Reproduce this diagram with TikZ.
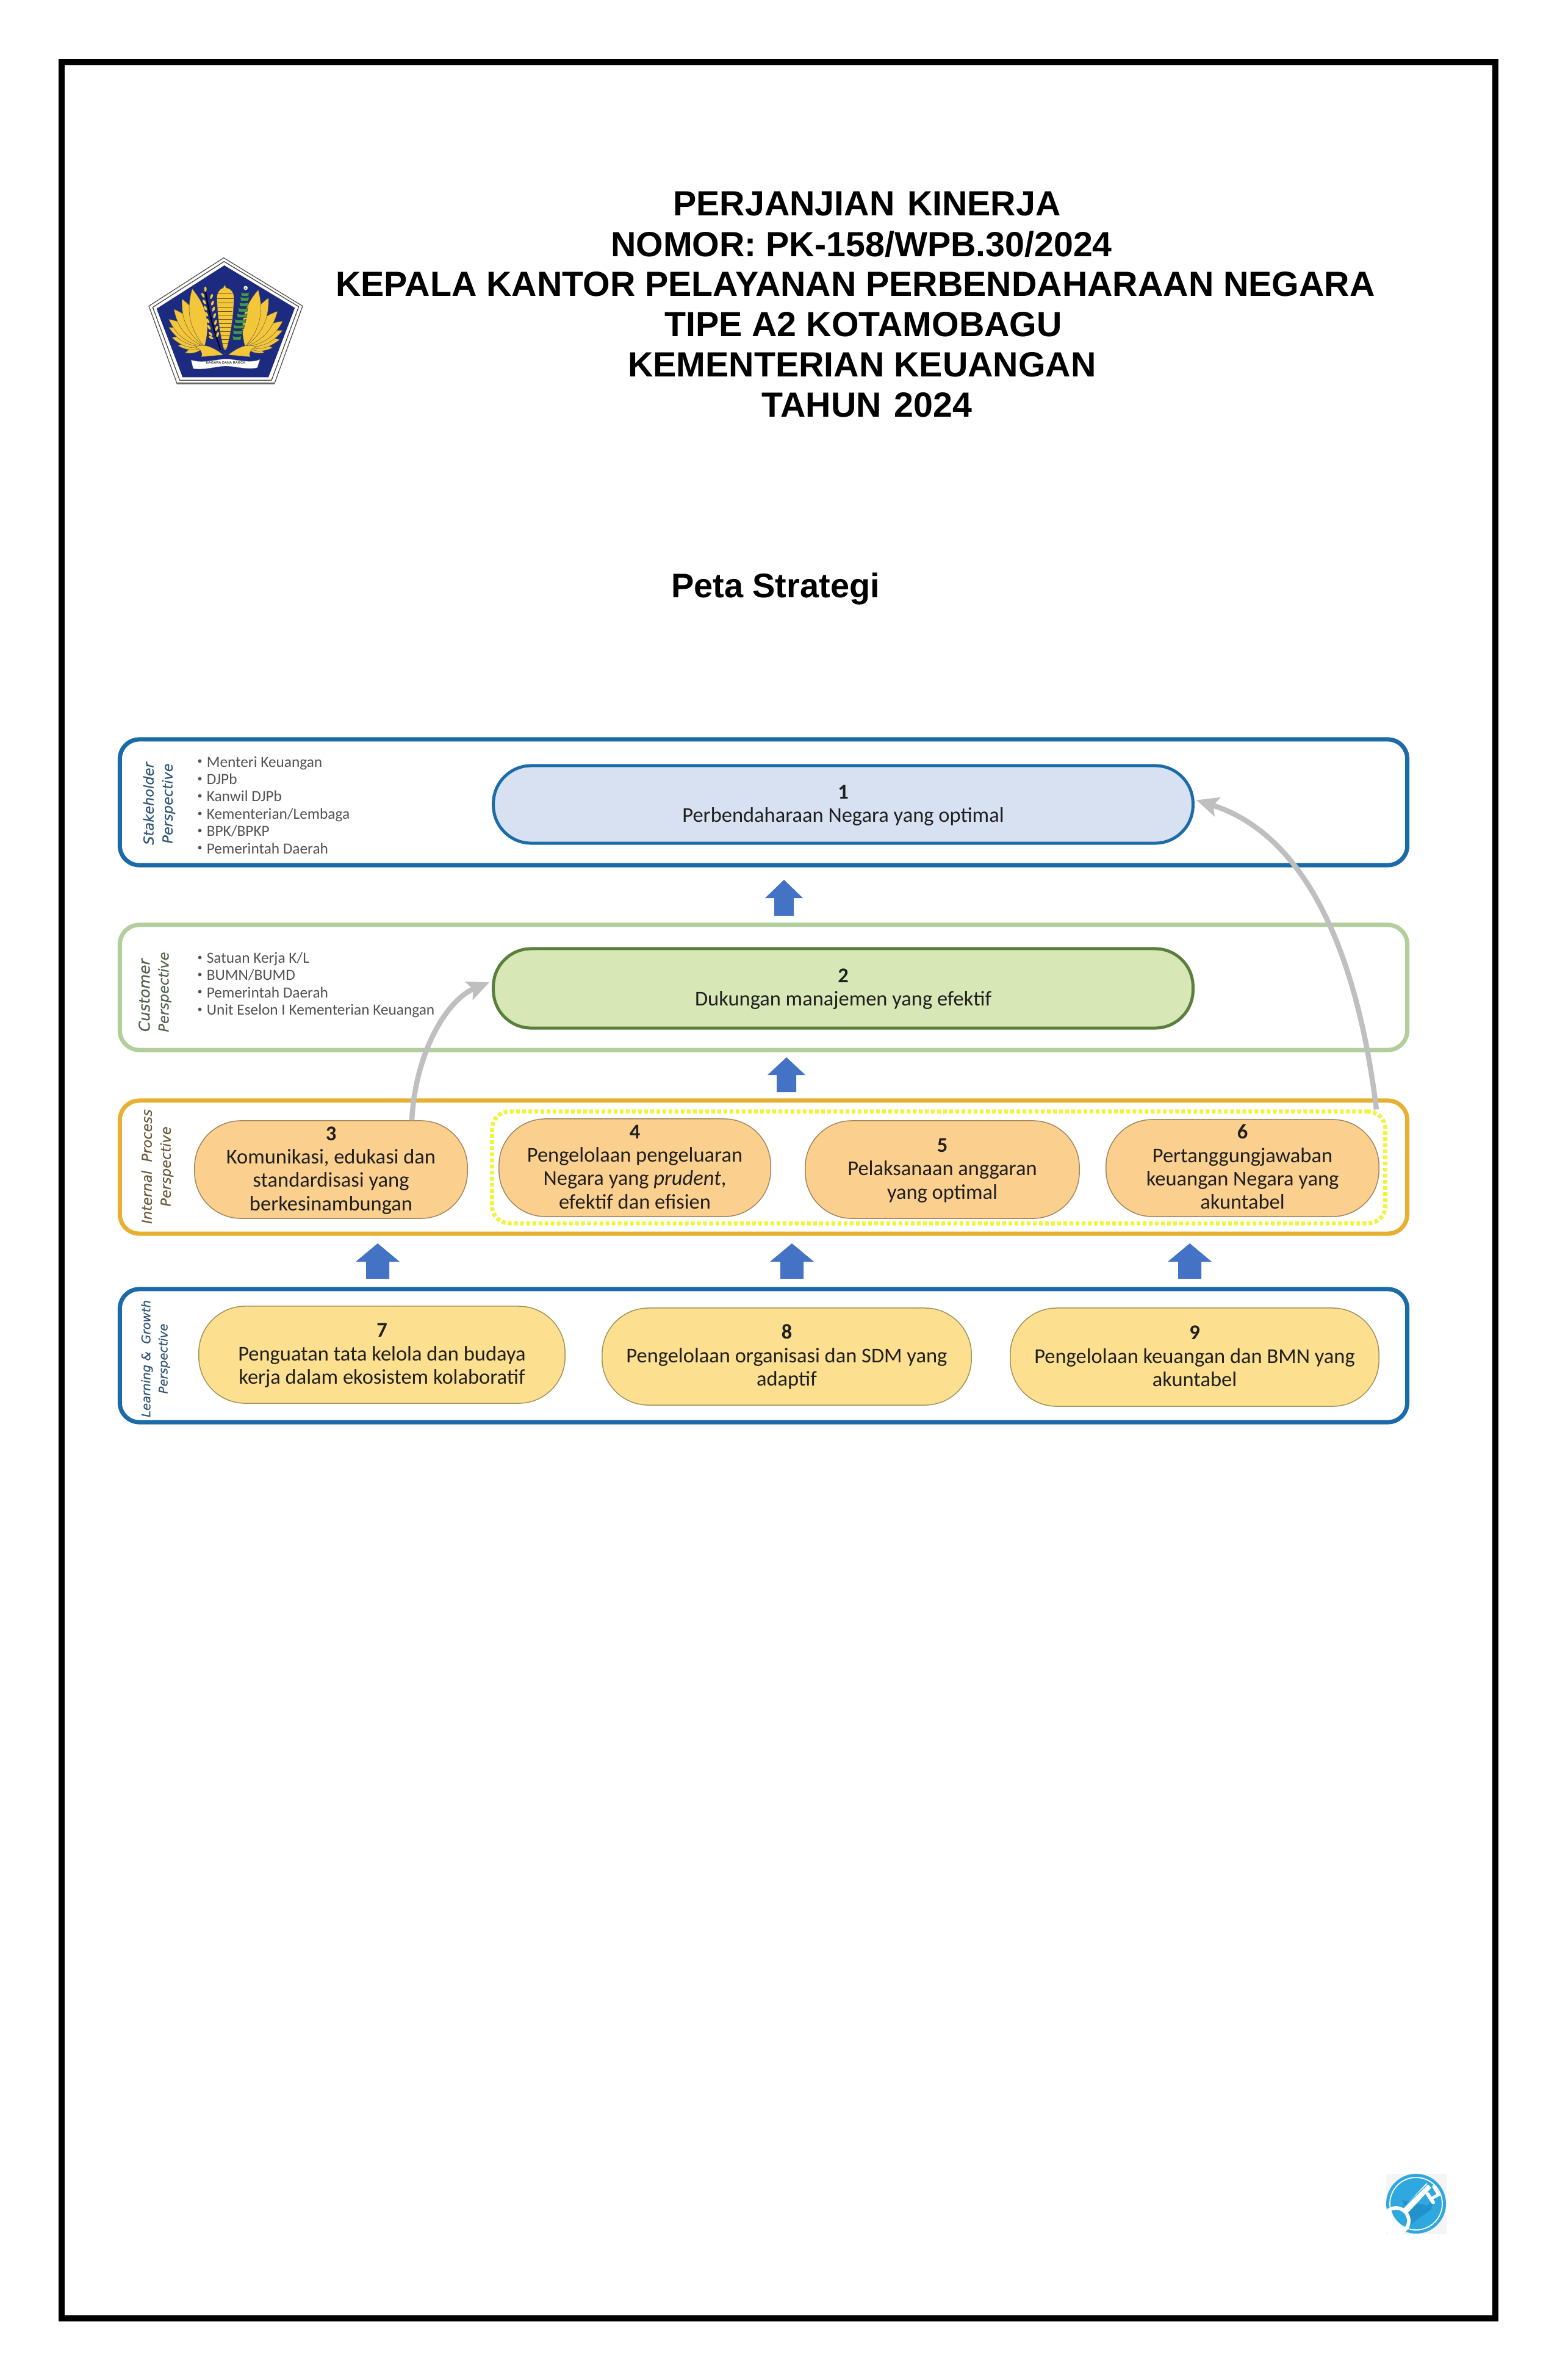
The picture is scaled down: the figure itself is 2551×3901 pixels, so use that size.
\documentclass[tikz,border=0pt]{standalone}
\usepackage{fontspec}
\usetikzlibrary{arrows.meta}
\setmainfont{Liberation Sans}
\newfontfamily\bodyfont{Carlito}
\newfontfamily\perspfont[ItalicFeatures={FakeBold=0.35}]{DejaVu Sans}
\definecolor{frameblue}{HTML}{1B6BA8}
\definecolor{framegreen}{HTML}{B2CE9C}
\definecolor{frameorange}{HTML}{E8B032}
\definecolor{pillblue}{HTML}{D7E1F2}
\definecolor{pillgreen}{HTML}{D7E7B6}
\definecolor{pillorange}{HTML}{FBD08F}
\definecolor{pillyellow}{HTML}{FCE08F}
\definecolor{pilloutline}{HTML}{5A7F3C}
\definecolor{arrowblue}{HTML}{4472C4}
\definecolor{arrowgray}{HTML}{BFBFBF}
\definecolor{dotyellow}{HTML}{EEF53C}
\definecolor{logonavy}{HTML}{1C2A80}
\definecolor{logogold}{HTML}{F4C63A}
\definecolor{logogreen}{HTML}{3F9A4E}
\definecolor{keyblue}{HTML}{2FA8E0}
\definecolor{keydark}{HTML}{2391CC}
\definecolor{labelblue}{HTML}{2F5578}
\definecolor{labelgreen}{HTML}{4F6349}
\definecolor{labelbrown}{HTML}{6B5A3A}
\tikzset{
  x=0.01cm,y=-0.01cm,
  titlebox/.style={font=\bfseries\fontsize{16.3}{16.5}\selectfont,inner sep=0pt,text=black},
  subtitlebox/.style={titlebox,font=\bfseries\fontsize{15.9}{16}\selectfont},
  framebox/.style={draw=#1,line width=0.07cm,rounded corners=0.32cm,inner sep=0pt,fill=white},
  pill/.style={inner sep=0pt,align=center,text=black!88,
     font=\bodyfont\fontsize{9.8}{10.9}\selectfont},
  pillone/.style={pill,line width=0.05cm,rounded corners=0.62cm},
  pillthree/.style={pill,draw=black!35!#1,fill=#1,line width=0.015cm,rounded corners=0.76cm},
  listbox/.style={inner sep=0pt,align=left,anchor=north west,text=black!68,
     font=\bodyfont\fontsize{7.2}{8.07}\selectfont},
  persp/.style={rotate=90,inner sep=0pt,align=center,text=#1,
     font=\perspfont\itshape\fontsize{6.4}{8.8}\selectfont},
  grayarrow/.style={draw=arrowgray,line width=0.085cm,
     -{Stealth[length=0.36cm,width=0.32cm,inset=0.07cm]}},
  feather/.style={fill=logogold,draw=black!70,line width=0.12pt},
}
\newcommand{\pillnode}[7]{% name,l,t,r,b,style,text
  \pgfmathsetmacro{\cxx}{(#2+#4)/2}\pgfmathsetmacro{\cyy}{(#3+#5)/2}
  \pgfmathsetmacro{\wdd}{(#4-#2)/100}\pgfmathsetmacro{\htt}{(#5-#3)/100}
  \node[#6,minimum width=\wdd cm,minimum height=\htt cm] (#1) at (\cxx,\cyy) {#7};
}
\newcommand{\ptxt}[1]{\raisebox{-0.02cm}[\height][\depth]{\begin{tabular}{@{}c@{}}#1\end{tabular}}}
\newcommand{\blockarrow}[6]{% x,tip,base,bottom,head half,shaft half
  \fill[arrowblue] (#1,#2) -- (#1+#5,#3) -- (#1+#6,#3) -- (#1+#6,#4) -- (#1-#6,#4) -- (#1-#6,#3) -- (#1-#5,#3) -- cycle;
}
\newcommand{\lb}{\raisebox{0.35ex}{\fontsize{4.6}{5}\selectfont •}\hspace{0.28em}}
\begin{document}
\begin{tikzpicture}
\useasboundingbox (0,0) rectangle (2551,3901);
\fill[white] (0,0) rectangle (2551,3901);
% page border
\draw[black,line width=0.105cm] (101,102) rectangle (2451,3800);

% titles
\node[titlebox] (t1) at (1421,334) {PERJANJIAN\hspace{0.36em}KINERJA};
\node[titlebox] (t2) at (1412,400) {NOMOR: PK-158/WPB.30/2024};
\node[titlebox] (t3) at (1402,466) {KEPALA KANTOR PELAYANAN PERBENDAHARAAN NEGARA};
\node[titlebox] (t4) at (1415,532) {TIPE A2 KOTAMOBAGU};
\node[titlebox] (t5) at (1413,598) {KEMENTERIAN KEUANGAN};
\node[titlebox] (t6) at (1421,664) {TAHUN\hspace{0.36em}2024};
\node[subtitlebox] (t7) at (1271,965) {Peta Strategi};

% logo
\begin{scope}[shift={(220,400)},xscale=0.3333,yscale=0.3333]
  \fill[white,draw=black!70,line width=0.35pt] (440,68)--(828,305)--(690,685)--(210,685)--(72,305)--cycle;
  \draw[black!75,line width=0.35pt] (442,86)--(809,308)--(675,670)--(224,670)--(91,311)--cycle;
  \fill[logonavy] (443,105)--(790,314)--(660,655)--(238,655)--(110,318)--cycle;
  \draw[black!60,line width=0.7pt] (210,685)--(690,685);
  % left wing
  \foreach \tx/\ty in {250/535,215/500,185/460,170/410,170/370,195/320,235/270,285/220}
    \draw[feather] (345,505) to[bend left=28] (\tx,\ty) to[bend left=28] (345,505);
  % right wing
  \foreach \tx/\ty in {640/535,680/510,715/470,730/425,730/380,705/330,660/265,610/225}
    \draw[feather] (545,505) to[bend right=28] (\tx,\ty) to[bend right=28] (545,505);
  \draw[feather] (300,505) .. controls (340,490) and (380,500) .. (438,545) -- (330,555) .. controls (340,530) and (320,515) .. (300,505) -- cycle;
  \draw[feather] (600,505) .. controls (560,490) and (520,500) .. (462,545) -- (570,555) .. controls (560,530) and (580,515) .. (600,505) -- cycle;
  % rice
  \draw[black,line width=0.5pt] (350,225) .. controls (365,330) and (390,420) .. (425,520);
  \foreach \gx/\gy/\gr in {350/222/90,338/252/-60,380/258/70,345/285/-60,385/290/70,350/315/-60,390/320/70,355/345/-60,395/352/70,362/378/-60,400/385/70,368/410/-60,405/415/70,375/442/-50,410/445/70,378/460/-30}
    \fill[logogold,rotate around={\gr:(\gx,\gy)}] (\gx,\gy) ellipse (13 and 6);
  % torch
  \fill[logogold,draw=black!70,line width=0.12pt] (445,200) -- (452,215) .. controls (480,222) and (490,240) .. (490,260) .. controls (490,360) and (470,470) .. (447,540) .. controls (425,470) and (408,360) .. (407,260) .. controls (407,240) and (418,222) .. (438,215) -- cycle;
  \foreach \sy/\sw in {240/38,268/40,290/38,310/37,330/36,350/34,370/33,390/31,410/28,430/26,450/23,470/20,490/15,510/10}
    \draw[black!60!logogold,line width=0.1pt] (448-\sw,\sy) -- (448+\sw,\sy);
  \fill[logonavy] (428,505) -- (447,540) -- (466,505) -- (447,522) -- cycle;
  % cotton
  \fill[white] (548,216) circle (10);
  \fill[logogreen] (548,218) circle (5);
  \foreach \cx/\cy/\cw in {545/245/20,543/268/22,540/295/23,535/322/24,530/350/26,522/378/28,515/405/28,510/432/25,505/460/22}
    \fill[logogreen,draw=black!80,line width=0.12pt] (\cx-\cw,\cy-8) .. controls (\cx-\cw/2,\cy-2) and (\cx+\cw/2,\cy-2) .. (\cx+\cw,\cy-8) -- (\cx+\cw-4,\cy+11) -- (\cx-\cw+4,\cy+11) -- cycle;
  % ribbon
  \fill[white,draw=black!40,line width=0.1pt] (280,570) .. controls (330,590) and (420,565) .. (450,565) .. controls (490,565) and (570,590) .. (618,568) -- (605,608) .. controls (560,620) and (490,600) .. (450,600) .. controls (410,600) and (340,622) .. (290,612) -- cycle;
  \node[inner sep=0pt,text=black!75,font=\bfseries\fontsize{1.6}{2}\selectfont] (motto) at (450,585) {NAGARA DANA RAKCA};
\end{scope}

% perspective frames
\pillnode{f1}{197}{1212}{2306}{1418}{framebox=frameblue}{}
\pillnode{f2}{197}{1516}{2306}{1721}{framebox=framegreen}{}
\pillnode{f3}{197}{1804}{2306}{2022}{framebox=frameorange}{}
\pillnode{f4}{197}{2113}{2306}{2331}{framebox=frameblue}{}

% perspective labels
\node[persp=labelblue] (p1) at (261,1317) {Stakeholder\\Perspective};
\node[persp=labelgreen] (p2) at (254,1626) {\makebox[1.3cm][l]{\fontsize{7}{8.8}\selectfont Customer}\\Perspective};
\node[persp=labelbrown] (p3) at (258,1912) {Internal\ \ Process\\Perspective};
\node[persp=labelblue,font=\perspfont\itshape\fontsize{5.6}{8}\selectfont] (p4) at (255,2227) {Learning \&\ \ Growth\\Perspective};

% lists
\node[listbox] (l1) at (323,1239) {\lb Menteri Keuangan\\\lb DJPb\\\lb Kanwil DJPb\\\lb Kementerian/Lembaga\\\lb BPK/BPKP\\\lb Pemerintah Daerah};
\node[listbox] (l2) at (323,1560) {\lb Satuan Kerja K/L\\\lb BUMN/BUMD\\\lb Pemerintah Daerah\\\lb Unit Eselon I Kementerian Keuangan};

% objective nodes
\pillnode{n1}{809}{1255}{1955}{1382}{pillone,draw=frameblue,fill=pillblue}{\ptxt{\textbf{1}\\Perbendaharaan Negara yang optimal}}
\pillnode{n2}{809}{1555}{1955}{1685}{pillone,draw=pilloutline,fill=pillgreen}{\ptxt{\textbf{2}\\Dukungan manajemen yang efektif}}
\pillnode{dots}{807}{1822}{2270}{2005}{draw=dotyellow,line width=0.07cm,rounded corners=0.28cm,dash pattern=on 0.06cm off 0.04cm}{}
\pillnode{n3}{319}{1837}{766}{1997}{pillthree=pillorange}{\ptxt{\textbf{3}\\Komunikasi, edukasi dan\\standardisasi yang\\berkesinambungan}}
\pillnode{n4}{818}{1834}{1263}{1994}{pillthree=pillorange}{\ptxt{\textbf{4}\\Pengelolaan pengeluaran\\Negara yang \textit{prudent},\\efektif dan efisien}}
\pillnode{n5}{1320}{1837}{1769}{1997}{pillthree=pillorange}{\ptxt{\textbf{5}\\Pelaksanaan anggaran\\yang optimal}}
\pillnode{n6}{1813}{1835}{2260}{1994}{pillthree=pillorange}{\ptxt{\textbf{6}\\Pertanggungjawaban\\keuangan Negara yang\\akuntabel}}
\pillnode{n7}{326}{2141}{926}{2300}{pillthree=pillyellow}{\ptxt{\textbf{7}\\Penguatan tata kelola dan budaya\\kerja dalam ekosistem kolaboratif}}
\pillnode{n8}{987}{2144}{1592}{2303}{pillthree=pillyellow}{\ptxt{\textbf{8}\\Pengelolaan organisasi dan SDM yang\\adaptif}}
\pillnode{n9}{1656}{2144}{2260}{2305}{pillthree=pillyellow}{\ptxt{\textbf{9}\\Pengelolaan keuangan dan BMN yang\\akuntabel}}

% block arrows
\blockarrow{1285}{1442}{1472}{1501}{31}{16}
\blockarrow{1289}{1733}{1762}{1790}{31}{16}
\blockarrow{619}{2038}{2068}{2096}{36}{19}
\blockarrow{1298}{2038}{2068}{2096}{36}{19}
\blockarrow{1950}{2038}{2068}{2096}{36}{19}

% curved gray arrows
\draw[grayarrow] ([xshift=1.325cm]n3.north) .. controls (680,1730) and (730,1640) .. ([xshift=-0.04cm,yshift=0.1cm]n2.west);
\draw[grayarrow] ([xshift=-0.18cm]dots.north east) .. controls (2222,1540) and (2130,1365) .. ([xshift=0.03cm,yshift=0.07cm]n1.east);

% key icon
\fill[black!4] (2272,3563) rectangle (2371,3662);
\fill[keyblue] (2321,3612) circle (49);
\draw[white,line width=0.018cm] (2321,3612) circle (43);
\fill[keydark] (2298,3606) -- (2305,3625) -- (2308,3650) -- (2320,3640) -- (2345,3622) -- (2358,3590) -- (2340,3615) -- cycle;
\draw[white,line width=0.11cm] (2299,3628) -- (2342,3582);
\draw[white,line width=0.06cm,line cap=round] (2340,3596) -- (2349,3610);
\draw[white,line width=0.05cm,line cap=round] (2350,3584) -- (2358,3597) -- (2349,3602);
\draw[keyblue,line width=0.012cm] (2297,3622) -- (2342,3578);
\fill[white] (2288,3640) circle (24);
\begin{scope}
  \clip (2321,3612) circle (42);
  \fill[keyblue] (2288,3640) circle (18);
\end{scope}
\end{tikzpicture}
\end{document}
